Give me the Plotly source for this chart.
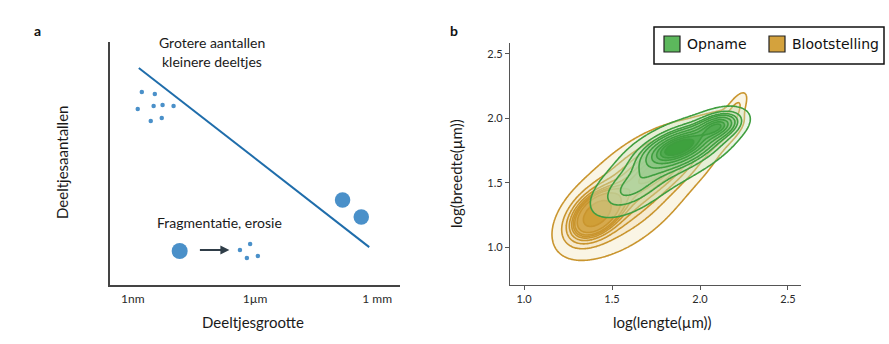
import numpy as np
import plotly.graph_objects as go

# ---------------- Panel a data (schematic, x = log10(size in m)) ----------------
size_tick_vals = [-9, -6, -3]
size_tick_text = ["1nm", "1\u00b5m", "1 mm"]

trend_x = [-8.854, -3.195]
trend_y = [8.93, 1.56]

small_x = [-8.78, -8.46, -8.88, -8.49, -8.27, -8.00, -8.56, -8.29]
small_y = [7.94, 7.86, 7.24, 7.37, 7.41, 7.37, 6.75, 6.87]

large_x = [-3.85, -3.39]
large_y = [3.50, 2.80]

frag_big_x = [-7.85]
frag_big_y = [1.40]
frag_small_x = [-6.37, -6.12, -6.20, -5.93]
frag_small_y = [1.44, 1.69, 1.11, 1.19]
arrow_from = (-7.39, 1.44)
arrow_to = (-6.63, 1.44)

# ---------------- Panel b data (estimated kernel centres of the KDE) ----------------
bloot_cx = [1.40, 1.60, 1.82, 2.05, 2.20]
bloot_cy = [1.25, 1.40, 1.67, 1.88, 2.07]
bloot_sx = [0.09, 0.19, 0.15, 0.10, 0.04]
bloot_sy = [0.12, 0.24, 0.15, 0.09, 0.08]
bloot_rho = [0.45, 0.58, 0.55, 0.6, 0.7]
bloot_w = [0.26, 0.42, 0.20, 0.07, 0.012]

opn_cx = [1.88, 1.85, 1.60, 2.10]
opn_cy = [1.78, 1.71, 1.44, 1.94]
opn_sx = [0.12, 0.20, 0.12, 0.07]
opn_sy = [0.09, 0.17, 0.12, 0.06]
opn_rho = [0.55, 0.7, 0.55, 0.4]
opn_w = [0.36, 0.31, 0.11, 0.12]

b_xticks = [1.0, 1.5, 2.0, 2.5]
b_yticks = [1.0, 1.5, 2.0, 2.5]

W, H = 889, 344


def px_x(p):
    return p / W


def px_y(p):
    return (H - p) / H


gx = np.linspace(0.92, 2.574, 260)
gy = np.linspace(0.705, 2.585, 260)
GX, GY = np.meshgrid(gx, gy)


def mixture(cx, cy, sx, sy, rho, w):
    d = np.zeros_like(GX)
    for a, b, s1, s2, r, ww in zip(cx, cy, sx, sy, rho, w):
        dx = (GX - a) / s1
        dy = (GY - b) / s2
        q = (dx * dx - 2 * r * dx * dy + dy * dy) / (1 - r * r)
        d += ww / (2 * np.pi * s1 * s2 * np.sqrt(1 - r * r)) * np.exp(-q / 2)
    return d


def mass_below(d):
    flat = d.ravel()
    order = np.argsort(flat)
    cum = np.cumsum(flat[order])
    cum /= cum[-1]
    z = np.empty_like(flat)
    z[order] = cum
    return z.reshape(d.shape)


z_bloot = mass_below(mixture(bloot_cx, bloot_cy, bloot_sx, bloot_sy, bloot_rho, bloot_w))
z_opn = mass_below(mixture(opn_cx, opn_cy, opn_sx, opn_sy, opn_rho, opn_w))

levels = np.linspace(0.05, 1.0, 10)
step = levels[1] - levels[0]

fig = go.Figure()

# ---- panel a traces ----
fig.add_trace(go.Scatter(x=trend_x, y=trend_y, mode="lines",
                         line=dict(color="#1f6dab", width=2), xaxis="x", yaxis="y",
                         hoverinfo="skip"))
fig.add_trace(go.Scatter(x=small_x, y=small_y, mode="markers",
                         marker=dict(color="#4a90c9", size=4.5), xaxis="x", yaxis="y",
                         hoverinfo="skip"))
fig.add_trace(go.Scatter(x=large_x, y=large_y, mode="markers",
                         marker=dict(color="#4a90c9", size=15.5), xaxis="x", yaxis="y",
                         hoverinfo="skip"))
fig.add_trace(go.Scatter(x=frag_big_x, y=frag_big_y, mode="markers",
                         marker=dict(color="#4a90c9", size=16), xaxis="x", yaxis="y",
                         hoverinfo="skip"))
fig.add_trace(go.Scatter(x=frag_small_x, y=frag_small_y, mode="markers",
                         marker=dict(color="#4a90c9", size=4.5), xaxis="x", yaxis="y",
                         hoverinfo="skip"))

# ---- panel b contours ----
fig.add_trace(go.Contour(
    x=gx, y=gy, z=z_bloot, xaxis="x2", yaxis="y2",
    autocontour=False,
    contours=dict(start=levels[0], end=levels[-2] + 1e-6, size=step, coloring="fill", showlines=True),
    colorscale=[[0, "rgba(255,255,255,0)"], [1 / 9, "rgba(250,244,228,0.95)"],
                [1, "rgba(208,158,54,0.95)"]],
    line=dict(color="#c9952e", width=1.6, smoothing=1.0),
    showscale=False, hoverinfo="skip"))
fig.add_trace(go.Contour(
    x=gx, y=gy, z=z_opn, xaxis="x2", yaxis="y2",
    autocontour=False,
    contours=dict(start=levels[0], end=levels[-2] + 1e-6, size=step, coloring="fill", showlines=True),
    colorscale=[[0, "rgba(255,255,255,0)"], [1 / 9, "rgba(200,228,190,0.4)"],
                [1, "rgba(60,160,60,0.9)"]],
    line=dict(color="#3f9e3f", width=1.6, smoothing=1.0),
    showscale=False, hoverinfo="skip"))

axis_col = "#555555"
tick_font = dict(family="Lato, Carlito, sans-serif", size=11, color="#2a2a2a")

fig.update_layout(
    width=W, height=H, margin=dict(l=0, r=0, t=0, b=0),
    paper_bgcolor="white", plot_bgcolor="rgba(0,0,0,0)",
    showlegend=False,
    xaxis=dict(domain=[px_x(110), px_x(400)], range=[-9 - 23 / 41, -3 + 23 / 41],
               showline=True, linecolor="#444", linewidth=1.5, showgrid=False, zeroline=False,
               tickvals=size_tick_vals, ticktext=size_tick_text, ticks="",
               tickfont=dict(family="Lato, sans-serif", size=12, color="#2a2a2a"),
               ticklabelstandoff=2, fixedrange=True),
    yaxis=dict(domain=[px_y(285), px_y(42)], range=[0, 243 / 24.3],
               showline=True, linecolor="#444", linewidth=1.5, showgrid=False, zeroline=False,
               showticklabels=False, ticks="", fixedrange=True),
    xaxis2=dict(domain=[px_x(510), px_x(801)], range=[0.92, 2.574], anchor="y2",
                showline=True, linecolor=axis_col, linewidth=1.2, showgrid=False, zeroline=False,
                tickvals=b_xticks, ticktext=[f"{v:.1f}" for v in b_xticks],
                ticks="outside", ticklen=4, tickcolor=axis_col, tickfont=tick_font),
    yaxis2=dict(domain=[px_y(285), px_y(43)], range=[0.705, 2.585], anchor="x2",
                showline=True, linecolor=axis_col, linewidth=1.2, showgrid=False, zeroline=False,
                tickvals=b_yticks, ticktext=[f"{v:.1f}" for v in b_yticks],
                ticks="outside", ticklen=4, tickcolor=axis_col, tickfont=tick_font),
)

txt_font = dict(family="Lato, sans-serif", size=14, color="#1a1a1a")
ann = [
    dict(x=px_x(37), y=px_y(30), text="<b>a</b>", font=dict(family="Lato, sans-serif", size=14, color="#111")),
    dict(x=px_x(454), y=px_y(30), text="<b>b</b>", font=dict(family="Lato, sans-serif", size=14, color="#111")),
    dict(x=px_x(253), y=px_y(322), text="Deeltjesgrootte", font=dict(family="Lato, sans-serif", size=15, color="#1a1a1a")),
    dict(x=px_x(62), y=px_y(163), text="Deeltjesaantallen", textangle=-90,
         font=dict(family="Lato, sans-serif", size=15, color="#1a1a1a")),
    dict(x=px_x(662), y=px_y(322), text="log(lengte(\u00b5m))", font=dict(family="Lato, sans-serif", size=15, color="#1a1a1a")),
    dict(x=px_x(456), y=px_y(173), text="log(breedte(\u00b5m))", textangle=-90,
         font=dict(family="Lato, sans-serif", size=15, color="#1a1a1a")),
    dict(x=-7.05, y=10.0, xref="x", yref="y", text="Grotere aantallen", font=txt_font),
    dict(x=-7.05, y=9.18, xref="x", yref="y", text="kleinere deeltjes", font=txt_font),
    dict(x=-6.88, y=2.59, xref="x", yref="y", text="Fragmentatie, erosie", font=txt_font),
    dict(x=px_x(685), y=px_y(44), xanchor="left", text="Opname",
         font=dict(family="DejaVu Sans, sans-serif", size=14, color="#111")),
    dict(x=px_x(790), y=px_y(44), xanchor="left", text="Blootstelling",
         font=dict(family="DejaVu Sans, sans-serif", size=14, color="#111")),
]
for a in ann:
    a.setdefault("xref", "paper")
    a.setdefault("yref", "paper")
    a.setdefault("xanchor", "center")
    a.setdefault("yanchor", "middle")
    a.setdefault("showarrow", False)
    fig.add_annotation(**a)

fig.add_annotation(x=arrow_to[0], y=arrow_to[1], ax=arrow_from[0], ay=arrow_from[1],
                   xref="x", yref="y", axref="x", ayref="y", showarrow=True,
                   arrowhead=2, arrowsize=1, arrowwidth=1.8, arrowcolor="#2f3d48", text="")

# legend box (manual)
fig.add_shape(type="rect", xref="paper", yref="paper", x0=px_x(654), x1=px_x(884),
              y0=px_y(64), y1=px_y(27), line=dict(color="#111", width=1.5), fillcolor="white")
fig.add_shape(type="rect", xref="paper", yref="paper", x0=px_x(664), x1=px_x(680),
              y0=px_y(52), y1=px_y(36), line=dict(color="#222", width=1.2), fillcolor="#5cb85c")
fig.add_shape(type="rect", xref="paper", yref="paper", x0=px_x(769), x1=px_x(785),
              y0=px_y(52), y1=px_y(36), line=dict(color="#222", width=1.2), fillcolor="#d4a23d")

fig.write_html("out.html")
